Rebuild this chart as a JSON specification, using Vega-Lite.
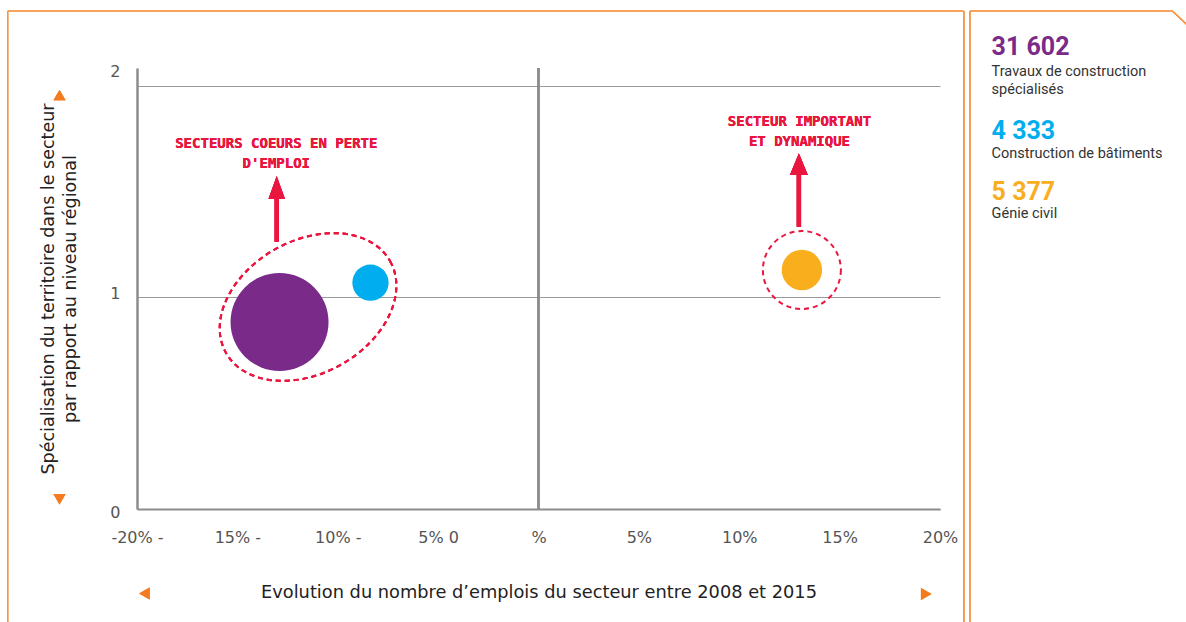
{
  "$schema": "https://vega.github.io/schema/vega-lite/v6.json",
  "width": 803,
  "height": 441,
  "autosize": "none",
  "padding": {"left": 137, "top": 68, "right": 246, "bottom": 113},
  "background": "white",
  "config": {
    "view": {"stroke": null},
    "locale": {"number": {"decimal": ",", "thousands": " ", "grouping": [3], "currency": ["", " €"]}}
  },
  "datasets": {
    "secteurs": [
      {"secteur": "Travaux de construction spécialisés", "libelle": "Travaux de construction\nspécialisés", "evolution": -12.9, "specialisation": 0.884, "emplois": 31602},
      {"secteur": "Construction de bâtiments", "libelle": "Construction de bâtiments", "evolution": -8.37, "specialisation": 1.07, "emplois": 4333},
      {"secteur": "Génie civil", "libelle": "Génie civil", "evolution": 13.12, "specialisation": 1.13, "emplois": 5377}
    ]
  },
  "data": {"name": "secteurs"},
  "layer": [
    {"mark": {"type": "circle", "opacity": 1}, "encoding": {
      "x": {"field": "evolution", "type": "quantitative", "scale": {"domain": [-20, 20], "nice": false}, "axis": {"values": [-20, -15, -10, -5, 0, 5, 10, 15, 20], "labelExpr": "datum.value == -20 ? '-20% -' : datum.value == -15 ? '15% -' : datum.value == -10 ? '10% -' : datum.value == -5 ? '5% 0' : datum.value == 0 ? '%' : datum.value + '%'", "labelFont": "DejaVu Sans", "labelFontSize": 16, "labelColor": "#555555", "labelPadding": 20, "ticks": false, "grid": false, "domainColor": "#8c8c8c", "domainWidth": 2.2, "labelFlush": false, "labelOverlap": false, "title": "Evolution du nombre d’emplois du secteur entre 2008 et 2015", "titleFont": "DejaVu Sans", "titleFontSize": 17.8, "titleFontWeight": "normal", "titleColor": "#222222", "titlePadding": 38}},
      "y": {"field": "specialisation", "type": "quantitative", "scale": {"domain": [0, 2.085], "nice": false, "zero": true}, "axis": {"values": [0, 1, 2], "labelExpr": "datum.value == 2 ? '2' : datum.value == 1 ? '1' : '0'", "labelFont": "DejaVu Sans", "labelFontSize": 16, "labelColor": "#555555", "labelPadding": 17, "labelOverlap": false, "labelOffset": {"condition": [{"test": "datum.value === 2", "value": -14}, {"test": "datum.value === 0", "value": 3}], "value": -4}, "ticks": false, "grid": true, "gridColor": "#9a9a9a", "gridWidth": 1, "domainColor": "#8c8c8c", "domainWidth": 2.5, "title": ["Spécialisation du territoire dans le secteur", "par rapport au niveau régional"], "titleFont": "DejaVu Sans", "titleFontSize": 17.5, "titleFontWeight": "normal", "titleColor": "#222222", "titleLineHeight": 22, "titlePadding": 30}},
      "size": {"field": "emplois", "type": "quantitative", "scale": {"type": "linear", "domain": [0, 31602], "range": [0, 9604]}, "legend": null},
      "color": {"field": "secteur", "type": "nominal", "scale": {"domain": ["Travaux de construction spécialisés", "Construction de bâtiments", "Génie civil"], "range": ["#7A2A88", "#00AEEF", "#F9AE1E"]}, "legend": null}
    }},
    {"mark": {"type": "rule", "color": "#F79646", "strokeWidth": 1.2}, "encoding": {"x": {"datum": -26.44}, "y": {"datum": 2.3546}, "y2": {"datum": -0.6}}},
    {"mark": {"type": "rule", "color": "#F79646", "strokeWidth": 1.2}, "encoding": {"x": {"datum": -26.44}, "x2": {"datum": 21.17}, "y": {"datum": 2.3546}}},
    {"mark": {"type": "rule", "color": "#F79646", "strokeWidth": 1.2}, "encoding": {"x": {"datum": 21.19}, "y": {"datum": 2.3546}, "y2": {"datum": -0.6}}},
    {"mark": {"type": "rule", "color": "#F79646", "strokeWidth": 1.2}, "encoding": {"x": {"datum": 21.49}, "y": {"datum": 2.3546}, "y2": {"datum": -0.6}}},
    {"mark": {"type": "rule", "color": "#F79646", "strokeWidth": 1.2}, "encoding": {"x": {"datum": 21.49}, "x2": {"datum": 31.58}, "y": {"datum": 2.3546}}},
    {"mark": {"type": "rule", "color": "#F79646", "strokeWidth": 1.2}, "encoding": {"x": {"datum": 31.58}, "x2": {"datum": 32.4}, "y": {"datum": 2.3546}, "y2": {"datum": 2.28}}},
    {"mark": {"type": "rule", "color": "#8c8c8c", "strokeWidth": 2.2}, "encoding": {"x": {"datum": 0}, "y": {"datum": 0}, "y2": {"datum": 2.085}}},
    {"mark": {"type": "point", "shape": "M0.8746,-0.4848 C1.0639,-0.1433 0.8258,0.3505 0.3428,0.6183 C-0.1402,0.8861 -0.6853,0.8263 -0.8746,0.4848 C-1.0639,0.1433 -0.8258,-0.3505 -0.3428,-0.6183 C0.1402,-0.8861 0.6853,-0.8263 0.8746,-0.4848 Z", "size": 35344, "filled": false, "stroke": "#E9163F", "strokeWidth": 2, "strokeDash": [5, 4], "opacity": 1}, "encoding": {"x": {"datum": -11.48}, "y": {"datum": 0.955}}},
    {"transform": [{"filter": "datum.secteur === 'Génie civil'"}], "mark": {"type": "point", "shape": "circle", "size": 6084, "filled": false, "stroke": "#E9163F", "strokeWidth": 2, "strokeDash": [5, 4], "opacity": 1}, "encoding": {"x": {"field": "evolution", "type": "quantitative"}, "y": {"field": "specialisation", "type": "quantitative"}}},
    {"mark": {"type": "point", "shape": "M0,-1 L0.253,-0.3 L0.067,-0.3 L0.067,1 L-0.067,1 L-0.067,-0.3 L-0.253,-0.3 Z", "size": 4316, "filled": true, "color": "#E9163F", "opacity": 1, "strokeWidth": 0}, "encoding": {"x": {"datum": -13.04}, "y": {"datum": 1.419}}},
    {"mark": {"type": "point", "shape": "M0,-1 L0.245,-0.409 L0.06,-0.409 L0.06,1 L-0.06,1 L-0.06,-0.409 L-0.245,-0.409 Z", "size": 5388, "filled": true, "color": "#E9163F", "opacity": 1, "strokeWidth": 0}, "encoding": {"x": {"datum": 12.97}, "y": {"datum": 1.508}}},
    {"mark": {"type": "text", "text": ["SECTEURS COEURS EN PERTE", "D'EMPLOI"], "font": "DejaVu Sans Mono", "fontWeight": "bold", "fontSize": 14, "lineHeight": 20, "color": "#E9163F", "align": "center", "baseline": "middle"}, "encoding": {"x": {"datum": -13.06}, "y": {"datum": 1.7267}}},
    {"mark": {"type": "text", "text": ["SECTEUR IMPORTANT", "ET DYNAMIQUE"], "font": "DejaVu Sans Mono", "fontWeight": "bold", "fontSize": 14, "lineHeight": 20, "color": "#E9163F", "align": "center", "baseline": "middle"}, "encoding": {"x": {"datum": 13.0}, "y": {"datum": 1.8274}}},
    {"mark": {"type": "point", "shape": "triangle-up", "size": 144, "filled": true, "color": "#F47B20", "opacity": 1}, "encoding": {"x": {"datum": -23.86}, "y": {"datum": 1.957}}},
    {"mark": {"type": "point", "shape": "triangle-down", "size": 144, "filled": true, "color": "#F47B20", "opacity": 1}, "encoding": {"x": {"datum": -23.86}, "y": {"datum": 0.046}}},
    {"mark": {"type": "point", "shape": "triangle-left", "size": 144, "filled": true, "color": "#F47B20", "opacity": 1}, "encoding": {"x": {"datum": -19.63}, "y": {"datum": -0.399}}},
    {"mark": {"type": "point", "shape": "triangle-right", "size": 144, "filled": true, "color": "#F47B20", "opacity": 1}, "encoding": {"x": {"datum": 19.31}, "y": {"datum": -0.402}}},
    {"transform": [{"filter": "datum.secteur === 'Travaux de construction spécialisés'"}], "mark": {"type": "text", "align": "left", "baseline": "middle", "font": "Roboto", "fontWeight": "bold", "fontSize": 25}, "encoding": {"x": {"datum": 22.57}, "y": {"datum": 2.182}, "text": {"field": "emplois", "type": "quantitative", "format": ",d"}, "color": {"field": "secteur", "type": "nominal", "legend": null}}},
    {"transform": [{"filter": "datum.secteur === 'Travaux de construction spécialisés'"}], "mark": {"type": "text", "align": "left", "baseline": "middle", "font": "Roboto", "fontSize": 14.5, "lineHeight": 18, "lineBreak": "\n", "color": "#333333"}, "encoding": {"x": {"datum": 22.57}, "y": {"datum": 2.0638}, "text": {"field": "libelle", "type": "nominal"}}},
    {"transform": [{"filter": "datum.secteur === 'Construction de bâtiments'"}], "mark": {"type": "text", "align": "left", "baseline": "middle", "font": "Roboto", "fontWeight": "bold", "fontSize": 25}, "encoding": {"x": {"datum": 22.57}, "y": {"datum": 1.785}, "text": {"field": "emplois", "type": "quantitative", "format": ",d"}, "color": {"field": "secteur", "type": "nominal", "legend": null}}},
    {"transform": [{"filter": "datum.secteur === 'Construction de bâtiments'"}], "mark": {"type": "text", "align": "left", "baseline": "middle", "font": "Roboto", "fontSize": 14.5, "lineHeight": 18, "lineBreak": "\n", "color": "#333333"}, "encoding": {"x": {"datum": 22.57}, "y": {"datum": 1.678}, "text": {"field": "libelle", "type": "nominal"}}},
    {"transform": [{"filter": "datum.secteur === 'Génie civil'"}], "mark": {"type": "text", "align": "left", "baseline": "middle", "font": "Roboto", "fontWeight": "bold", "fontSize": 25}, "encoding": {"x": {"datum": 22.57}, "y": {"datum": 1.4965}, "text": {"field": "emplois", "type": "quantitative", "format": ",d"}, "color": {"field": "secteur", "type": "nominal", "legend": null}}},
    {"transform": [{"filter": "datum.secteur === 'Génie civil'"}], "mark": {"type": "text", "align": "left", "baseline": "middle", "font": "Roboto", "fontSize": 14.5, "lineHeight": 18, "lineBreak": "\n", "color": "#333333"}, "encoding": {"x": {"datum": 22.57}, "y": {"datum": 1.395}, "text": {"field": "libelle", "type": "nominal"}}}
  ]
}
